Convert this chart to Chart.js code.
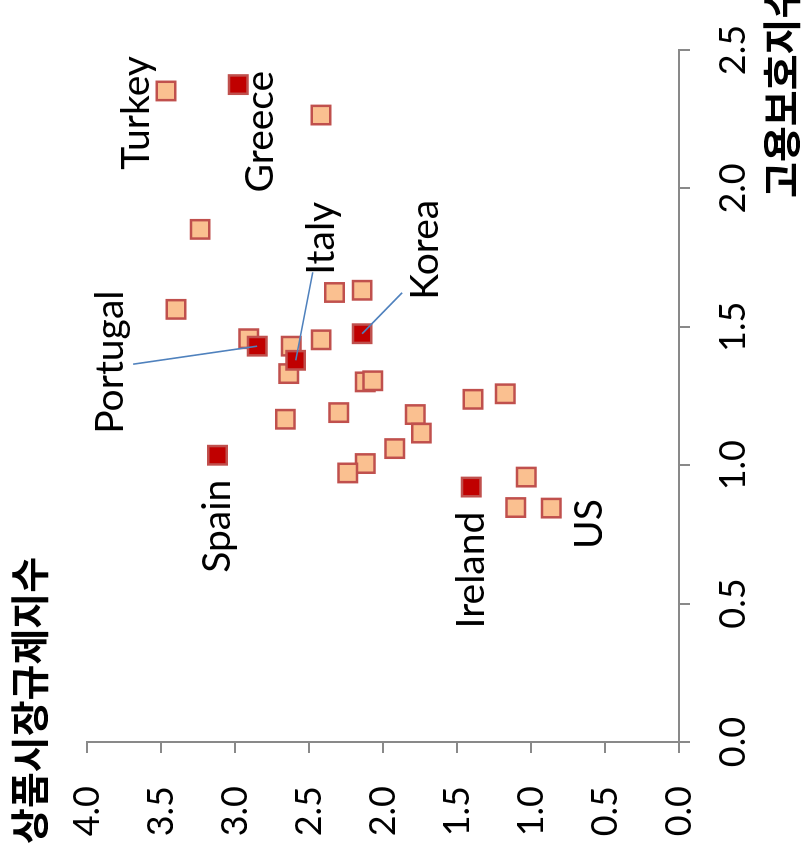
<!DOCTYPE html>
<html><head><meta charset="utf-8">
<script src="https://cdn.jsdelivr.net/npm/chart.js@4.4.0/dist/chart.umd.min.js"></script>
<style>
html,body{margin:0;padding:0;background:#fff;overflow:hidden;width:807px;height:856px;}
#wrap{position:absolute;left:0;top:0;width:856px;height:807px;transform-origin:0 0;transform:translate(0px,856px) rotate(-90deg);}
</style></head><body>
<div id="wrap"><canvas id="c" width="856" height="807"></canvas></div>
<script>
// ---- data ----
const xTitle = '고용보호지수';       // employment protection index (x)
const yTitle = '상품시장규제지수';   // product market regulation index (y)
const xTickValues = [0, 0.5, 1.0, 1.5, 2.0, 2.5];
const yTickValues = [0, 0.5, 1.0, 1.5, 2.0, 2.5, 3.0, 3.5, 4.0];

// highlighted countries
const hiNames = ['Greece', 'Portugal', 'Italy', 'Korea', 'Spain', 'Ireland'];
const hiEP    = [2.375, 1.430, 1.379, 1.475, 1.036, 0.921];
const hiPMR   = [2.978, 2.850, 2.590, 2.141, 3.118, 1.404];

// other OECD countries
const otherNames = ['Turkey', '', '', '', '', '', '', '', '', '', '', '', '', '', '', '', '', '', '', '', '', '', '', 'US'];
const otherEP  = [2.352, 2.265, 1.852, 1.563, 1.457, 1.430, 1.331, 1.624, 1.632, 1.453, 1.301, 1.305,
                  1.166, 1.190, 1.183, 1.116, 1.060, 1.006, 0.972, 1.238, 1.258, 0.957, 0.847, 0.845];
const otherPMR = [3.466, 2.419, 3.236, 3.399, 2.907, 2.620, 2.637, 2.328, 2.141, 2.418, 2.120, 2.069,
                  2.660, 2.299, 1.782, 1.741, 1.921, 2.120, 2.238, 1.392, 1.174, 1.032, 1.103, 0.863];

// ---- label layout (pixel offsets from the point, in chart orientation) ----
const labelLayout = {
  Turkey:   {dx: -22, dy: -30},
  Greece:   {dx: -47, dy: 22},
  Italy:    {dx: 122, dy: 26, lx: 88, ly: 17},
  Korea:    {dx: 84,  dy: 63, lx: 41, ly: 40},
  Portugal: {dx: -16, dy: -147, lx: -18, ly: -124},
  Spain:    {dx: -71, dy: 0},
  Ireland:  {dx: -83, dy: 0},
  US:       {dx: -16, dy: 38}
};

const toPts = (xs, ys) => xs.map((x, i) => ({x: x, y: ys[i]}));

const labelPlugin = {
  id: 'countryLabels',
  afterDatasetsDraw(chart) {
    const ctx = chart.ctx;
    const xs = chart.scales.x, ys = chart.scales.y;
    const items = [];
    hiNames.forEach((n, i) => items.push({n, x: hiEP[i], y: hiPMR[i]}));
    otherNames.forEach((n, i) => { if (n) items.push({n, x: otherEP[i], y: otherPMR[i]}); });
    ctx.save();
    items.forEach(it => {
      const L = labelLayout[it.n]; if (!L) return;
      const px = xs.getPixelForValue(it.x), py = ys.getPixelForValue(it.y);
      if (L.lx !== undefined) {
        ctx.strokeStyle = '#4F81BD'; ctx.lineWidth = 1.6;
        ctx.beginPath(); ctx.moveTo(px + L.lx, py + L.ly); ctx.lineTo(px, py); ctx.stroke();
      }
      ctx.fillStyle = '#000'; ctx.font = '39px Lato';
      ctx.textAlign = 'center'; ctx.textBaseline = 'middle';
      ctx.fillText(it.n, px + L.dx, py + L.dy);
    });
    ctx.restore();
  },
  afterDraw(chart) {
    const ctx = chart.ctx;
    ctx.save();
    ctx.fillStyle = '#000';
    ctx.font = 'bold 39px "Noto Sans CJK KR"';
    ctx.textBaseline = 'middle'; ctx.textAlign = 'left';
    ctx.fillText(yTitle, 12, 29);
    ctx.fillText(xTitle, 658, 781);
    ctx.restore();
  }
};

const axisColor = '#898989';
new Chart(document.getElementById('c').getContext('2d'), {
  type: 'scatter',
  data: {
    datasets: [
      {label: 'highlight', data: toPts(hiEP, hiPMR), pointStyle: 'rect', pointRadius: 13, pointHoverRadius: 13,
       backgroundColor: '#C00000', borderColor: '#C0504D', borderWidth: 2.5},
      {label: 'others', data: toPts(otherEP, otherPMR), pointStyle: 'rect', pointRadius: 13, pointHoverRadius: 13,
       backgroundColor: '#FAC090', borderColor: '#C0504D', borderWidth: 2.5}
    ]
  },
  options: {
    responsive: false, animation: false, devicePixelRatio: 1,
    layout: {padding: {left: 0, right: 50, top: 87, bottom: 0}},
    plugins: {legend: {display: false}, tooltip: {enabled: false}},
    scales: {
      x: {
        type: 'linear', position: 'bottom', min: 0, max: 2.5,
        afterFit(s) { s.height = 128; },
        afterBuildTicks(s) { s.ticks = xTickValues.map(v => ({value: v})); },
        grid: {drawOnChartArea: false, drawTicks: true, tickLength: 11, color: axisColor, lineWidth: 2},
        border: {display: true, color: axisColor, width: 2},
        ticks: {font: {family: 'Lato', size: 36}, color: '#000', padding: 22, maxRotation: 0, autoSkip: false,
                callback: v => Number(v).toFixed(1)}
      },
      y: {
        type: 'linear', position: 'left', min: 0, max: 4,
        afterFit(s) { s.width = 114; },
        afterBuildTicks(s) { s.ticks = yTickValues.map(v => ({value: v})); },
        grid: {drawOnChartArea: false, drawTicks: true, tickLength: 11, color: axisColor, lineWidth: 2},
        border: {display: true, color: axisColor, width: 2},
        ticks: {font: {family: 'Lato', size: 36}, color: '#000', padding: 33, autoSkip: false,
                callback: v => Number(v).toFixed(1)}
      }
    }
  },
  plugins: [labelPlugin]
});
</script>
</body></html>
